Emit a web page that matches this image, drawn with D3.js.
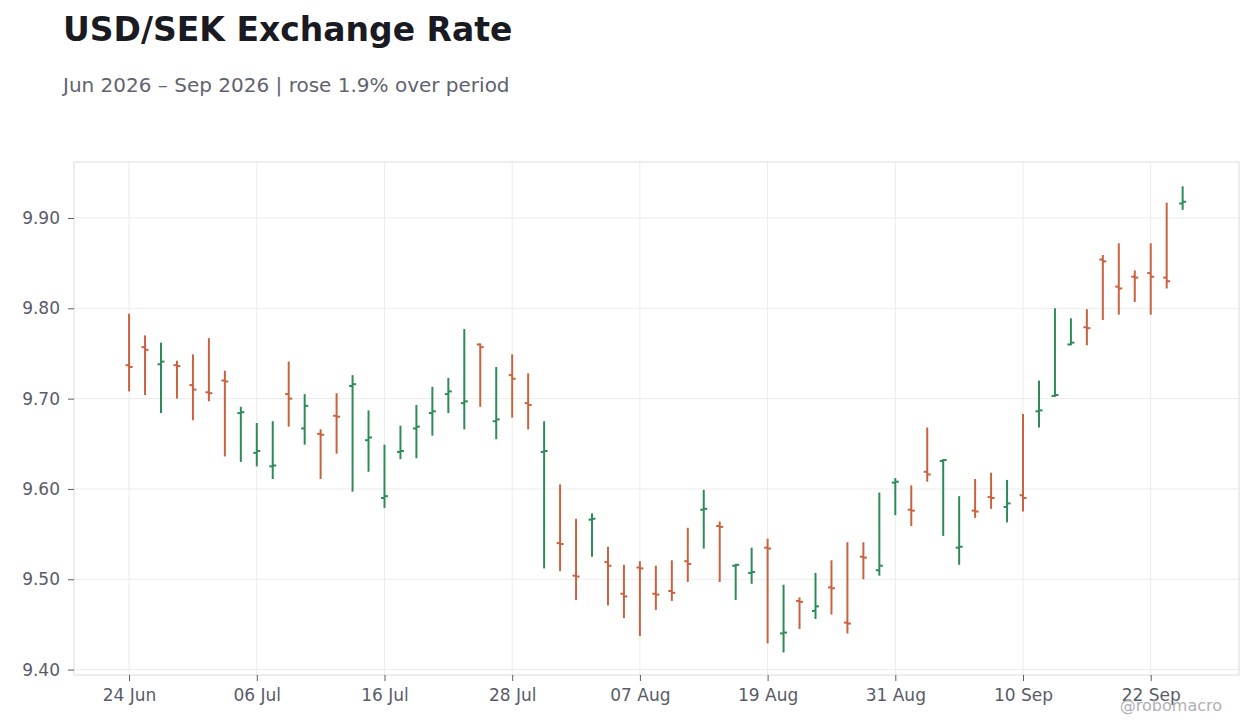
<!DOCTYPE html>
<html>
<head>
<meta charset="utf-8">
<script src="https://cdn.jsdelivr.net/npm/d3@7/dist/d3.min.js"></script>
<style>
  html, body { margin: 0; padding: 0; background: #ffffff; }
  svg { display: block; font-family: "DejaVu Sans", sans-serif; }
</style>
</head>
<body>
<svg id="chart" width="1260" height="728"></svg>
<script>
// ---- Data ----
const dates = [
  "2026-06-24","2026-06-25","2026-06-26","2026-06-29","2026-06-30",
  "2026-07-01","2026-07-02","2026-07-03","2026-07-06","2026-07-07","2026-07-08","2026-07-09","2026-07-10",
  "2026-07-13","2026-07-14","2026-07-15","2026-07-16","2026-07-17","2026-07-20","2026-07-21","2026-07-22",
  "2026-07-23","2026-07-24","2026-07-27","2026-07-28","2026-07-29","2026-07-30","2026-07-31",
  "2026-08-03","2026-08-04","2026-08-05","2026-08-06","2026-08-07","2026-08-10","2026-08-11","2026-08-12",
  "2026-08-13","2026-08-14","2026-08-17","2026-08-18","2026-08-19","2026-08-20","2026-08-21","2026-08-24",
  "2026-08-25","2026-08-26","2026-08-27","2026-08-28","2026-08-31",
  "2026-09-01","2026-09-02","2026-09-03","2026-09-04","2026-09-07","2026-09-08","2026-09-09","2026-09-10",
  "2026-09-11","2026-09-14","2026-09-15","2026-09-16","2026-09-17","2026-09-18","2026-09-21","2026-09-22",
  "2026-09-23","2026-09-24"
];
const open = [
  9.737,9.757,9.738,9.737,9.715,9.707,9.720,9.684,9.640,9.625,
  9.705,9.667,9.661,9.681,9.714,9.654,9.590,9.641,9.667,9.684,
  9.705,9.695,9.760,9.675,9.726,9.695,9.641,9.540,9.504,9.566,
  9.519,9.484,9.513,9.484,9.487,9.520,9.577,9.559,9.515,9.507,
  9.535,9.440,9.476,9.465,9.491,9.452,9.525,9.510,9.607,9.577,
  9.619,9.631,9.535,9.576,9.591,9.580,9.593,9.686,9.703,9.760,
  9.779,9.854,9.824,9.835,9.839,9.834,9.916
];
const high = [
  9.794,9.770,9.762,9.742,9.749,9.767,9.731,9.691,9.673,9.675,
  9.741,9.705,9.666,9.706,9.726,9.687,9.649,9.670,9.693,9.713,
  9.723,9.777,9.761,9.735,9.749,9.728,9.675,9.605,9.567,9.573,
  9.536,9.516,9.520,9.515,9.521,9.557,9.599,9.564,9.517,9.535,
  9.545,9.494,9.480,9.507,9.521,9.541,9.541,9.596,9.612,9.604,
  9.668,9.633,9.592,9.611,9.618,9.610,9.683,9.720,9.800,9.789,
  9.799,9.859,9.872,9.842,9.872,9.917,9.935
];
const low = [
  9.708,9.704,9.684,9.700,9.676,9.697,9.636,9.630,9.625,9.611,
  9.669,9.649,9.611,9.639,9.597,9.619,9.579,9.633,9.634,9.659,
  9.684,9.666,9.691,9.655,9.679,9.666,9.512,9.509,9.477,9.525,
  9.471,9.457,9.437,9.466,9.476,9.497,9.534,9.497,9.477,9.495,
  9.429,9.419,9.445,9.456,9.461,9.440,9.500,9.504,9.571,9.559,
  9.608,9.548,9.516,9.568,9.578,9.563,9.575,9.668,9.702,9.759,
  9.759,9.787,9.793,9.807,9.793,9.822,9.909
];
const close = [
  9.735,9.754,9.741,9.736,9.710,9.706,9.719,9.685,9.642,9.626,
  9.700,9.692,9.660,9.680,9.716,9.657,9.592,9.642,9.669,9.686,
  9.708,9.697,9.757,9.677,9.722,9.693,9.642,9.539,9.503,9.567,
  9.515,9.481,9.512,9.483,9.485,9.517,9.578,9.558,9.516,9.508,
  9.534,9.441,9.475,9.470,9.490,9.451,9.524,9.515,9.608,9.576,
  9.616,9.632,9.536,9.575,9.590,9.584,9.590,9.687,9.704,9.762,
  9.778,9.852,9.822,9.834,9.835,9.830,9.918
];
const yTicks = [9.40, 9.50, 9.60, 9.70, 9.80, 9.90];
const xTickEvery = 8;

const title = "USD/SEK Exchange Rate";
const subtitle = "Jun 2026 \u2013 Sep 2026 | rose 1.9% over period";
const credit = "@robomacro";

// ---- Layout ----
const svg = d3.select("#chart");
const W = 1260, H = 728;
const m = { left: 74, right: 1239, top: 162, bottom: 675 };
const UP = "#2e8b57", DOWN = "#c9623f";
const AXIS_TXT = "#585c68";

const parse = d3.utcParse("%Y-%m-%d");
const fmt = d3.utcFormat("%d %b");
const data = dates.map((d, i) => ({
  i, date: parse(d), o: open[i], h: high[i], l: low[i], c: close[i]
}));

const x = d3.scaleLinear().domain([-3.45, data.length - 1 + 3.53]).range([m.left, m.right]);
const y = d3.scaleLinear().domain([9.394, 9.962]).range([m.bottom, m.top]);

const xTickIdx = data.filter(d => d.i % xTickEvery === 0).map(d => d.i);

// Gridlines
const grid = svg.append("g");
grid.selectAll("line.gy").data(yTicks).join("line")
  .attr("x1", m.left).attr("x2", m.right)
  .attr("y1", d => y(d)).attr("y2", d => y(d))
  .attr("stroke", "#ececec").attr("stroke-width", 1);
grid.selectAll("line.gx").data(xTickIdx).join("line")
  .attr("x1", d => x(d)).attr("x2", d => x(d))
  .attr("y1", m.top).attr("y2", m.bottom)
  .attr("stroke", "#ececec").attr("stroke-width", 1);

// Frame
svg.append("rect")
  .attr("x", m.left).attr("y", m.top)
  .attr("width", m.right - m.left).attr("height", m.bottom - m.top)
  .attr("fill", "none").attr("stroke", "#dcdcdc").attr("stroke-width", 1);

// Axes
const yAxis = d3.axisLeft(y).tickValues(yTicks).tickFormat(d3.format(".2f")).tickSize(6).tickPadding(8);
const gy = svg.append("g").attr("transform", `translate(${m.left},0)`).call(yAxis);
gy.select(".domain").remove();
gy.selectAll(".tick line").attr("stroke", AXIS_TXT);
gy.selectAll(".tick text").attr("fill", AXIS_TXT).style("font-size", "17px")
  .style("font-family", "DejaVu Sans, sans-serif");

const xAxis = d3.axisBottom(x).tickValues(xTickIdx).tickFormat(i => fmt(data[i].date)).tickSize(6).tickPadding(8);
const gx = svg.append("g").attr("transform", `translate(0,${m.bottom})`).call(xAxis);
gx.select(".domain").remove();
gx.selectAll(".tick line").attr("stroke", AXIS_TXT);
gx.selectAll(".tick text").attr("fill", AXIS_TXT).style("font-size", "17px")
  .style("font-family", "DejaVu Sans, sans-serif");

// OHLC bars
const tick = 3.5;
const bars = svg.append("g").selectAll("g.bar").data(data).join("g")
  .attr("stroke", d => d.c >= d.o ? UP : DOWN)
  .attr("stroke-width", 2);
bars.append("line")
  .attr("x1", d => x(d.i)).attr("x2", d => x(d.i))
  .attr("y1", d => y(d.h)).attr("y2", d => y(d.l));
bars.append("line")
  .attr("x1", d => x(d.i) - tick).attr("x2", d => x(d.i))
  .attr("y1", d => y(d.o)).attr("y2", d => y(d.o));
bars.append("line")
  .attr("x1", d => x(d.i)).attr("x2", d => x(d.i) + tick)
  .attr("y1", d => y(d.c)).attr("y2", d => y(d.c));

// Titles
svg.append("text").attr("x", 63).attr("y", 41)
  .attr("fill", "#1a1a22").style("font-size", "33px").style("font-weight", "bold")
  .text(title);
svg.append("text").attr("x", 63).attr("y", 92)
  .attr("fill", "#5f6370").style("font-size", "20px")
  .text(subtitle);
svg.append("text").attr("x", 1222).attr("y", 711).attr("text-anchor", "end")
  .attr("fill", "#b0b0b4").style("font-size", "16px")
  .text(credit);
</script>
</body>
</html>
